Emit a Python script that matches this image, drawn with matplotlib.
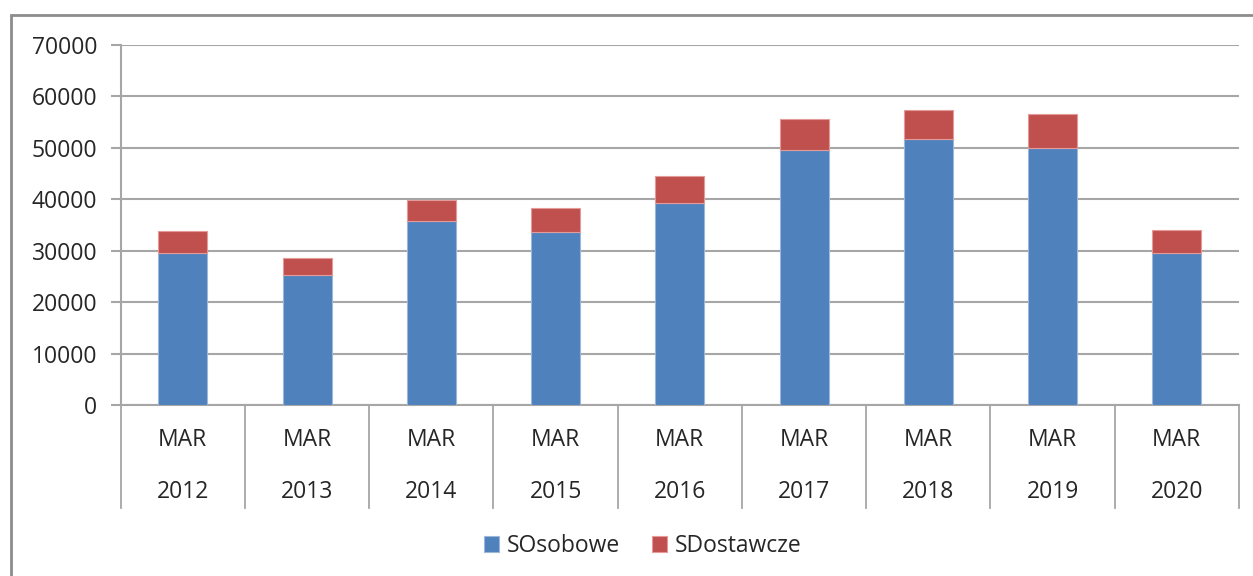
import matplotlib

matplotlib.use("Agg")
import matplotlib.pyplot as plt
from matplotlib.patches import Rectangle
import numpy as np

# data
MONTHS = ["MAR"] * 9
YEARS = ["2012", "2013", "2014", "2015", "2016", "2017", "2018", "2019", "2020"]
OSOBOWE = [29600, 25300, 35800, 33600, 39300, 49600, 51800, 50000, 29600]
TOTALS = [33800, 28600, 39900, 38300, 44500, 55600, 57300, 56500, 34100]
DOSTAWCZE = [t - o for t, o in zip(TOTALS, OSOBOWE)]
SERIES_NAMES = ["SOsobowe", "SDostawcze"]
Y_TICKS = [0, 10000, 20000, 30000, 40000, 50000, 60000, 70000]

BLUE = "#4F81BD"
RED = "#C0504D"
GRID = "#A6A6A6"
TEXT = "#262626"
FONT = ["Open Sans", "DejaVu Sans"]
FS = 16.5

plt.rcParams.update({"font.family": FONT, "font.size": FS})

fig = plt.figure(figsize=(12.53, 5.76), dpi=100)
fig.patch.set_facecolor("white")

# outer chart frame (runs off the right and bottom of the picture)
fig.patches.append(
    Rectangle((11 / 1253, -0.1), 1.2, 1 - 15 / 576 + 0.1, transform=fig.transFigure,
              facecolor="none", edgecolor="#8C8C8C", linewidth=2.0)
)

ax = fig.add_axes([120.7 / 1253, 1 - 405 / 576, (1239 - 120.7) / 1253, 360 / 576])
x = np.arange(len(YEARS))
width = 0.394
ax.bar(x, OSOBOWE, width, color=BLUE, edgecolor="#9DB7DA", linewidth=0.8, label=SERIES_NAMES[0], zorder=3)
ax.bar(x, DOSTAWCZE, width, bottom=OSOBOWE, color=RED, edgecolor="#E39A98", linewidth=0.8,
       label=SERIES_NAMES[1], zorder=3)

ax.set_xlim(-0.5, len(YEARS) - 0.5)
ax.set_ylim(0, 70000)
ax.set_yticks(Y_TICKS)
ax.set_yticklabels([str(v) for v in Y_TICKS], color=TEXT, fontsize=FS)
ax.set_xticks([])
ax.grid(axis="y", color=GRID, linewidth=1.5, zorder=0)
ax.set_axisbelow(True)
for side in ("top", "right"):
    ax.spines[side].set_visible(False)
for side in ("left", "bottom"):
    ax.spines[side].set_color(GRID)
    ax.spines[side].set_linewidth(1.5)
ax.tick_params(axis="y", direction="out", length=7, width=1.5, color=GRID, pad=10)

# two-level category axis
trans = ax.get_xaxis_transform()
drop = (508 - 405) / 360
for b in np.arange(len(YEARS) + 1) - 0.5:
    ax.plot([b, b], [0, -drop], transform=trans, color=GRID, linewidth=1.3, clip_on=False)
for i, (m, yr) in enumerate(zip(MONTHS, YEARS)):
    ax.text(i, -(440 - 405) / 360, m, transform=trans, ha="center", va="center", color=TEXT, fontsize=FS)
    ax.text(i, -(492 - 405) / 360, yr, transform=trans, ha="center", va="center", color=TEXT, fontsize=FS)

fig.legend(loc="center", bbox_to_anchor=(0.513, 1 - 546 / 576), ncol=2, frameon=False,
           fontsize=FS, handlelength=0.65, handleheight=0.65, handletextpad=0.35, columnspacing=1.4,
           labelcolor=TEXT)

fig.savefig("out.png", dpi=100)
